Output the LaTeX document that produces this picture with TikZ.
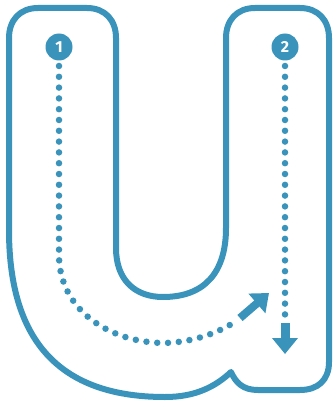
\documentclass[tikz,border=0pt]{standalone}
\usepackage{fontspec}
\setsansfont{Fira Sans}
\usetikzlibrary{arrows.meta}
\definecolor{ublue}{HTML}{3A93BB}
\tikzset{
  outline/.style={draw=ublue, line width=6pt, line join=round},
  dots/.style={draw=ublue, line width=6.5pt, line cap=round, dash pattern=on 0pt off 10.8pt},
  numdot/.style={circle, fill=ublue, minimum size=27pt, inner sep=0pt, text=white,
    font=\sffamily\bfseries\fontsize{16}{16}\selectfont},
  bigarrow/.style={draw=ublue, line width=9pt, -{Triangle[width=25pt,length=16pt]}}
}
\begin{document}
\begin{tikzpicture}[x=1pt,y=-1pt]
\useasboundingbox (0,0) rectangle (334,401);
% letter outline
\path[outline] (9,38) .. controls (9,20) and (20,8) .. (38,8) -- (87,8)
  .. controls (105,8) and (116,20) .. (116,38) -- (116,248)
  .. controls (116,280) and (135,297) .. (163,297)
  .. controls (205,297) and (226,272) .. (226,228) -- (226,38)
  .. controls (226,20) and (237,8) .. (255,8) -- (300,8)
  .. controls (318,8) and (329,20) .. (329,38) -- (329,362)
  .. controls (329,380) and (318,390) .. (300,390) -- (258,390)
  .. controls (243,390) and (236,383) .. (231,372)
  .. controls (215,387) and (195,397) .. (165,397)
  .. controls (50,397) and (9,330) .. (9,230) -- cycle;
% numbered start points
\node[numdot] (n1) at (59,47) {1};
\node[numdot] (n2) at (285,47) {2};
% path 1
\coordinate (s1) at (59,66);
\coordinate (b1) at (59,255);
\coordinate (m1) at (165,343);
\coordinate (e1) at (238,320);
\coordinate (a1s) at (240,318);
\coordinate (a1e) at (269,293);
\path[dots] (s1) -- (b1) .. controls (59,310) and (110,343) .. (m1)
  .. controls (195,342) and (220,332) .. (e1);
\draw[bigarrow, line width=8pt] (a1s) -- (a1e);
% path 2
\coordinate (s2) at (285,66);
\coordinate (e2) at (285,318);
\coordinate (a2s) at (285,323);
\coordinate (a2e) at (285,354);
\path[dots] (s2) -- (e2);
\draw[bigarrow] (a2s) -- (a2e);
\end{tikzpicture}
\end{document}
